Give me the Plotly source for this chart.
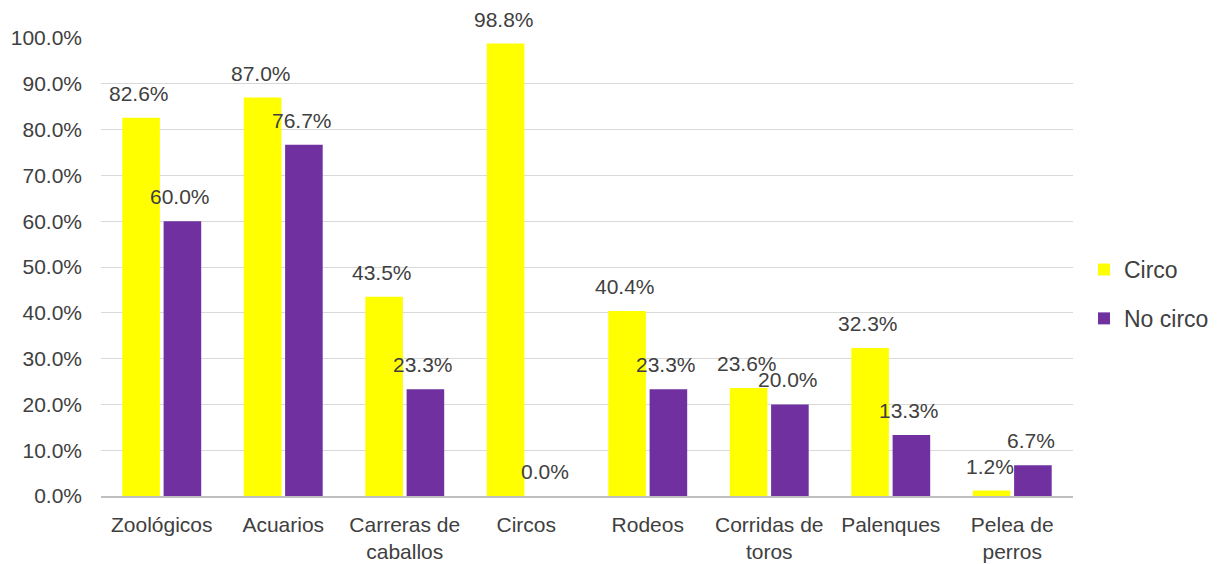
import plotly.graph_objects as go

categories = ["Zoológicos", "Acuarios", "Carreras de<br>caballos", "Circos", "Rodeos",
              "Corridas de<br>toros", "Palenques", "Pelea de<br>perros"]
circo = [0.826, 0.870, 0.435, 0.988, 0.404, 0.236, 0.323, 0.012]
no_circo = [0.600, 0.767, 0.233, 0.000, 0.233, 0.200, 0.133, 0.067]
y_ticks = [i / 10 for i in range(11)]

font_family = "Liberation Sans, Arial, sans-serif"
text_color = "#404040"

W, H = 1219, 564
ML, MR, MT, MB = 101, 146, 38, 68
BARGAP, GROUPGAP = 0.32, 0.09

fig = go.Figure()
fig.add_trace(go.Bar(
    name="Circo", x=categories, y=circo, legendgroup="a",
    marker=dict(color="#FFFF00", line=dict(width=0)),
))
fig.add_trace(go.Bar(
    name="No circo", x=categories, y=no_circo, legendgroup="b",
    marker=dict(color="#7030A0", line=dict(width=0)),
))

# data labels above each bar, positioned via the axes
plot_w = W - ML - MR
slot = plot_w / len(categories) * (1 - BARGAP) / 2
for series, sign in ((circo, -1), (no_circo, 1)):
    for cat, val in zip(categories, series):
        fig.add_annotation(
            x=cat, y=val, xref="x", yref="y",
            text=f"{val * 100:.1f}%", showarrow=False,
            yanchor="bottom", xanchor="center",
            xshift=sign * slot / 2 - 2, yshift=11,
            font=dict(size=21, color=text_color, family=font_family),
        )

fig.update_layout(
    width=W, height=H,
    margin=dict(l=ML, r=MR, t=MT, b=MB, autoexpand=False),
    paper_bgcolor="white", plot_bgcolor="white",
    barmode="group", bargap=BARGAP, bargroupgap=GROUPGAP,
    font=dict(family=font_family, size=21, color=text_color),
    legend=dict(x=1.0113, y=0.441, yanchor="middle", xanchor="left",
                font=dict(size=23, color=text_color),
                tracegroupgap=16, itemwidth=30),
)
fig.update_yaxes(range=[0, 1.0], tickvals=y_ticks, tickformat=".1%",
                 showgrid=True, gridcolor="#D9D9D9", gridwidth=1,
                 zeroline=False, ticks="", tickfont=dict(size=21, color=text_color),
                 ticklabelstandoff=18, automargin=False)
fig.update_xaxes(showline=True, linecolor="#BFBFBF", linewidth=1.5,
                 ticks="", tickfont=dict(size=21, color=text_color),
                 ticklabelstandoff=9, automargin=False)

fig.write_html("out.html", config={"displayModeBar": False},
               post_script="document.body.style.margin='0';document.body.style.overflow='hidden';")
